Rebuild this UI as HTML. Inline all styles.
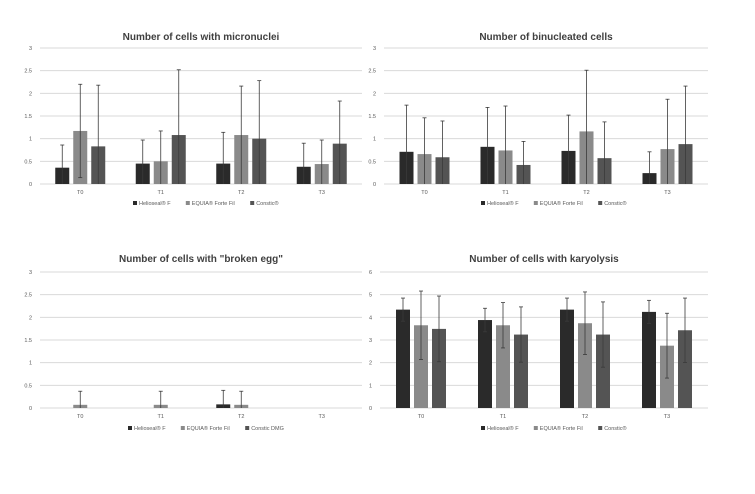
<!DOCTYPE html>
<html><head><meta charset="utf-8"><style>
body{margin:0;background:#fff;width:755px;height:489px;overflow:hidden;font-family:"Liberation Sans",sans-serif}
svg text{font-family:"Liberation Sans",sans-serif}
</style></head><body>
<svg id="root" width="755" height="489"></svg>
<script>
const categories=["T0","T1","T2","T3"];
const seriesNames1=["Helioseal® F","EQUIA® Forte Fil","Constic®"];
const seriesNames3=["Helioseal® F","EQUIA® Forte Fil","Constic DMG"];
const colors=["#2a2a2a","#8a8a8a","#545454"];
// chart 1 micronuclei
const micro_H=[0.36,0.45,0.45,0.38], micro_E=[1.17,0.5,1.08,0.44], micro_C=[0.83,1.08,1.0,0.89];
const microSd_H=[0.5,0.52,0.69,0.52], microSd_E=[1.03,0.67,1.08,0.53], microSd_C=[1.35,1.44,1.28,0.94];
// chart 2 binucleated
const bin_H=[0.71,0.82,0.73,0.24], bin_E=[0.66,0.74,1.16,0.77], bin_C=[0.59,0.42,0.57,0.88];
const binSd_H=[1.03,0.87,0.79,0.47], binSd_E=[0.8,0.98,1.35,1.1], binSd_C=[0.8,0.52,0.8,1.28];
// chart 3 broken egg
const egg_H=[0,0,0.08,0], egg_E=[0.07,0.07,0.07,0], egg_C=[0,0,0,0];
const eggSd_H=[0,0,0.31,0], eggSd_E=[0.3,0.3,0.3,0], eggSd_C=[0,0,0,0];
// chart 4 karyolysis
const kar_H=[4.34,3.88,4.34,4.24], kar_E=[3.65,3.65,3.74,2.75], kar_C=[3.49,3.24,3.24,3.43];
const karSd_H=[0.51,0.52,0.51,0.51], karSd_E=[1.51,1.0,1.38,1.43], karSd_C=[1.45,1.22,1.44,1.42];
const ticks3=["0","0.5","1","1.5","2","2.5","3"];
const ticks6=["0","1","2","3","4","5","6"];

const NS="http://www.w3.org/2000/svg";
const root=document.getElementById('root');
function mk(tag,attrs,parent){const e=document.createElementNS(NS,tag);for(const k in attrs)e.setAttribute(k,attrs[k]);(parent||root).appendChild(e);return e;}

function chart(id,title,x0,x1,yTop,yBot,ymax,ticks,vals,sds,names,titleY,legendY,legendX){
  const g=mk('g',{});
  
  
  const ys=v=>yBot-(v/ymax)*(yBot-yTop);
  const bw=(x1-x0)/categories.length;
  const xc=i=>x0+bw*(i+0.5);
  const t=mk('text',{x:(x0+x1)/2,y:titleY,'text-anchor':'middle','font-size':10,'font-weight':'bold',fill:'#404040'},g);
  t.textContent=title;
  
  
  ticks.forEach((lab,i)=>{
    const v=parseFloat(lab);const y=ys(v);
    const l=mk('line',{x1:x0,x2:x1,y1:y,y2:y,stroke:'#d9d9d9','stroke-width':1},g);
    
    
    const tx=mk('text',{x:x0-8,y:y+2,'text-anchor':'end','font-size':5.5,fill:'#595959'},g);
    tx.textContent=lab;
    
    
  });
  categories.forEach((c,i)=>{
    const tx=mk('text',{x:xc(i),y:yBot+10,'text-anchor':'middle','font-size':5.5,fill:'#595959'},g);
    tx.textContent=c;
    
    
    vals.forEach((arr,s)=>{
      const v=arr[i],sd=sds[s][i];
      const bx=xc(i)+(s-1)*18-7;
      if(v>0){
        const r=mk('rect',{x:bx,y:ys(v),width:14,height:yBot-ys(v),fill:colors[s]},g);
        
        
      }
      if(sd>0){
        const cx=bx+7,hi=v+sd,lo=Math.max(0,v-sd);
        const e=mk('line',{x1:cx,x2:cx,y1:ys(hi),y2:ys(lo),stroke:'#3a3a3a','stroke-width':0.8},g);
        
        
        mk('line',{x1:cx-2,x2:cx+2,y1:ys(hi),y2:ys(hi),stroke:'#3a3a3a','stroke-width':0.8},g);
        if(v-sd>0)mk('line',{x1:cx-2,x2:cx+2,y1:ys(lo),y2:ys(lo),stroke:'#3a3a3a','stroke-width':0.8},g);
      }
    });
  });
  let lx=legendX;
  names.forEach((n,s)=>{
    const lg=mk('g',{},g);
    
    
    mk('rect',{x:lx,y:legendY-4,width:4,height:4,fill:colors[s]},lg);
    const tx=mk('text',{x:lx+6,y:legendY,'font-size':5.5,fill:'#595959'},lg);
    tx.textContent=n;
    lx+=6+n.length*2.9+12;
  });
}
chart('chart-micronuclei','Number of cells with micronuclei',40,362,48,184,3,ticks3,[micro_H,micro_E,micro_C],[microSd_H,microSd_E,microSd_C],seriesNames1,40,205,133);
chart('chart-binucleated','Number of binucleated cells',384,708,48,184,3,ticks3,[bin_H,bin_E,bin_C],[binSd_H,binSd_E,binSd_C],seriesNames1,40,205,481);
chart('chart-broken-egg','Number of cells with "broken egg"',40,362,272,408,3,ticks3,[egg_H,egg_E,egg_C],[eggSd_H,eggSd_E,eggSd_C],seriesNames3,262,430,128);
chart('chart-karyolysis','Number of cells with karyolysis',380,708,272,408,6,ticks6,[kar_H,kar_E,kar_C],[karSd_H,karSd_E,karSd_C],seriesNames1,262,430,481);
</script>
</body></html>
